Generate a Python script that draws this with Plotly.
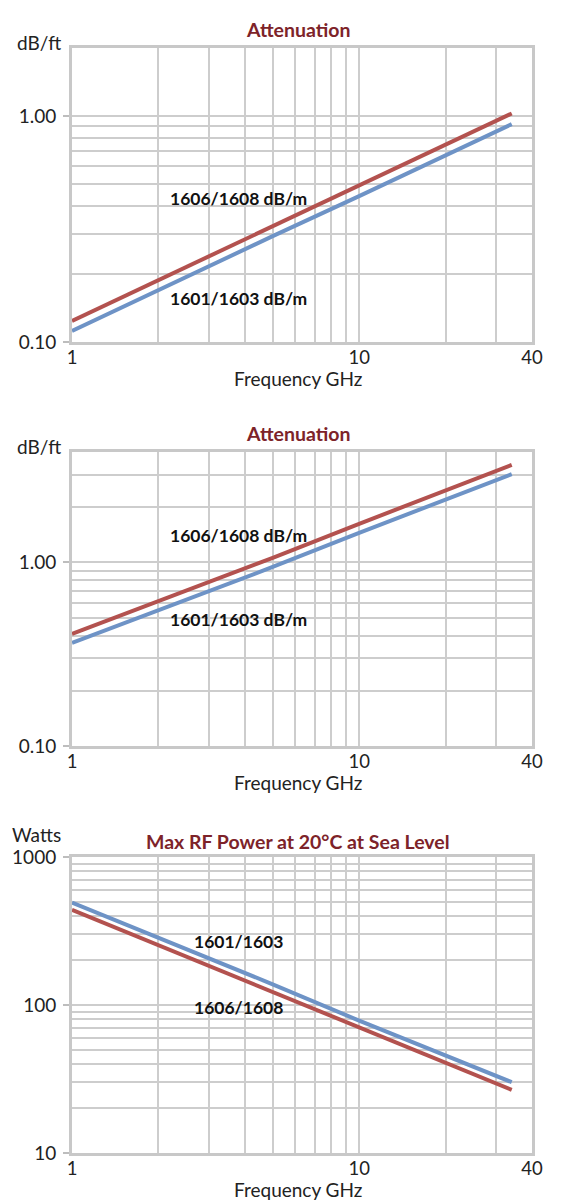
import plotly.graph_objects as go

# ---------------- data ----------------
freq = [1, 2, 5, 10, 20, 34]

# Chart 1: Attenuation (dB/ft)
att1_1606 = [0.124, 0.188, 0.326, 0.495, 0.745, 1.026]
att1_1601 = [0.112, 0.170, 0.294, 0.442, 0.671, 0.921]

# Chart 2: Attenuation (dB/m values, axis labelled dB/ft)
att2_1606 = [0.408, 0.615, 1.06, 1.625, 2.47, 3.40]
att2_1601 = [0.365, 0.550, 0.945, 1.45, 2.21, 3.03]

# Chart 3: Max RF power (Watts)
pwr_1601 = [492, 285, 138, 78.4, 45.6, 30.1]
pwr_1606 = [440, 254, 123, 70.7, 40.8, 26.7]

x_tickvals = [1, 10, 40]
x_ticktext = ["1", "10", "40"]
x_minor = [2, 3, 4, 5, 6, 7, 8, 9, 20, 30]

titles = ["Attenuation", "Attenuation", "Max RF Power at 20°C at Sea Level"]
y_titles = ["dB/ft", "dB/ft", "Watts"]
x_title = "Frequency GHz"

RED = "#b3524f"
BLUE = "#6e93c6"
GRID = "#cdcdcd"
TXT = "#222222"
TITLE_C = "#7d2329"
FONT = "Lato"

W, H = 570, 1204
# plot areas in pixels (top, bottom)
X0, X1 = 72, 532
boxes = [(48, 342), (452, 746), (857, 1153)]

def fy(py):
    return 1 - py / H

fig = go.Figure()

def add_line(idx, y, color):
    ax = "" if idx == 0 else str(idx + 1)
    fig.add_trace(go.Scatter(x=freq, y=y, mode="lines", line=dict(color=color, width=4),
                             xaxis="x" + ax, yaxis="y" + ax, showlegend=False, hoverinfo="skip"))

add_line(0, att1_1606, RED)
add_line(0, att1_1601, BLUE)
add_line(1, att2_1606, RED)
add_line(1, att2_1601, BLUE)
add_line(2, pwr_1606, RED)
add_line(2, pwr_1601, BLUE)

y_specs = [
    dict(range=[-1, 0.30103], tickvals=[0.1, 1], ticktext=["0.10", "1.00"],
         minor=[0.2, 0.3, 0.4, 0.5, 0.6, 0.7, 0.8, 0.9]),
    dict(range=[-1, 0.60206], tickvals=[0.1, 1], ticktext=["0.10", "1.00"],
         minor=[0.2, 0.3, 0.4, 0.5, 0.6, 0.7, 0.8, 0.9, 2, 3]),
    dict(range=[1, 3], tickvals=[10, 100, 1000], ticktext=["10", "100", "1000"],
         minor=[20, 30, 40, 50, 60, 70, 80, 90, 200, 300, 400, 500, 600, 700, 800, 900]),
]

layout = dict(width=W, height=H, margin=dict(l=0, r=0, t=0, b=0, autoexpand=False),
              paper_bgcolor="white", plot_bgcolor="white",
              font=dict(family=FONT, color=TXT), showlegend=False)

annotations = []
for i, (top, bot) in enumerate(boxes):
    ax = "" if i == 0 else str(i + 1)
    ys = y_specs[i]
    layout["xaxis" + ax] = dict(
        type="log", range=[0, 1.60206], domain=[X0 / W, X1 / W], anchor="y" + ax,
        tickmode="array", tickvals=x_tickvals, ticktext=x_ticktext, ticks="",
        tickfont=dict(size=18.5, color=TXT), ticklabelstandoff=-3, automargin=False,
        showgrid=True, gridcolor=GRID, gridwidth=2,
        minor=dict(tickmode="array", tickvals=x_minor, showgrid=True, gridcolor=GRID, gridwidth=2, ticks=""),
        showline=True, linecolor="#c8c8c8", linewidth=3, mirror=True, zeroline=False, fixedrange=True)
    layout["yaxis" + ax] = dict(
        type="log", range=ys["range"], domain=[fy(bot), fy(top)], anchor="x" + ax,
        tickmode="array", tickvals=ys["tickvals"], ticktext=ys["ticktext"],
        ticks="outside", ticklen=6, tickcolor="#bdbdbd", tickwidth=2,
        tickfont=dict(size=19, color=TXT), ticklabelstandoff=3, automargin=False,
        showgrid=True, gridcolor=GRID, gridwidth=2,
        minor=dict(tickmode="array", tickvals=ys["minor"], showgrid=True, gridcolor=GRID, gridwidth=2, ticks=""),
        showline=True, linecolor="#c8c8c8", linewidth=3, mirror=True, zeroline=False, fixedrange=True)

    # chart title
    annotations.append(dict(text="<b>" + titles[i] + "</b>", xref="paper", yref="paper",
                            x=298 / W, y=fy(top - 18 if i < 2 else top - 16), xanchor="center", yanchor="middle",
                            showarrow=False, font=dict(size=19.5, color=TITLE_C, family=FONT)))
    # y axis title
    annotations.append(dict(text=y_titles[i], xref="paper", yref="paper",
                            x=63 / W, y=fy(top - 5 if i < 2 else top - 23), xanchor="right", yanchor="middle",
                            showarrow=False, font=dict(size=19, color=TXT, family=FONT)))
    # x axis title
    annotations.append(dict(text=x_title, xref="paper", yref="paper",
                            x=298 / W, y=fy(bot + 36), xanchor="center", yanchor="middle",
                            showarrow=False, font=dict(size=19, color=TXT, family=FONT)))

# series labels (pixel-positioned text)
series_labels = [
    ("1606/1608 dB/m", 168, 198),
    ("1601/1603 dB/m", 168, 298),
    ("1606/1608 dB/m", 168, 535),
    ("1601/1603 dB/m", 168, 619),
    ("1601/1603", 192, 941),
    ("1606/1608", 192, 1007),
]
for txt, px, py in series_labels:
    annotations.append(dict(text="<b>" + txt + "</b>", xref="paper", yref="paper",
                            x=px / W, y=fy(py), xanchor="left", yanchor="middle",
                            showarrow=False, font=dict(size=17.5, color="#111111", family=FONT)))

layout["annotations"] = annotations
fig.update_layout(**layout)
fig.write_html("out.html")
